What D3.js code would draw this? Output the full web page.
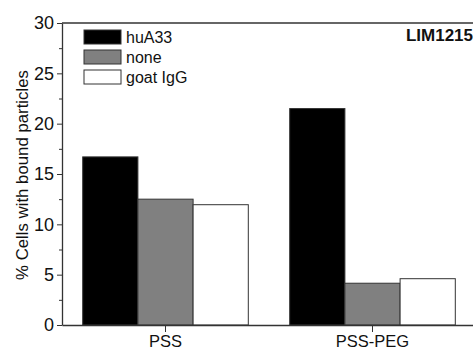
<!DOCTYPE html>
<html>
<head>
<meta charset="utf-8">
<script src="https://cdn.jsdelivr.net/npm/d3@7"></script>
<style>
  body { margin: 0; background: #fff; }
  text { font-family: "Liberation Sans", Arial, sans-serif; }
</style>
</head>
<body>
<script>
const categories = ["PSS", "PSS-PEG"];
const series = ["huA33", "none", "goat IgG"];
const huA33 = [16.7, 21.5];
const none = [12.5, 4.15];
const goatIgG = [11.95, 4.6];
const yTicks = [0, 5, 10, 15, 20, 25, 30];
const colors = ["#000000", "#808080", "#ffffff"];

const values = [huA33, none, goatIgG];

const margin = {top: 23, left: 62},
      width = 414, height = 302;

const svg = d3.select("body").append("svg")
    .attr("width", 473)
    .attr("height", 351);

const g = svg.append("g")
    .attr("transform", `translate(${margin.left},${margin.top})`);

const x0 = d3.scaleBand()
    .domain(categories)
    .range([0, width])
    .paddingInner(0.2)
    .paddingOuter(0.1);

const x1 = d3.scaleBand()
    .domain(series)
    .range([0, x0.bandwidth()]);

const y = d3.scaleLinear()
    .domain([0, 30])
    .range([height, 0]);

// bars
categories.forEach((c, ci) => {
  g.append("g")
      .attr("transform", `translate(${x0(c)},0)`)
    .selectAll("rect")
    .data(series)
    .enter().append("rect")
      .attr("x", s => x1(s))
      .attr("y", (s, si) => y(values[si][ci]))
      .attr("width", x1.bandwidth())
      .attr("height", (s, si) => height - y(values[si][ci]))
      .attr("fill", (s, si) => colors[si])
      .attr("stroke", "#333")
      .attr("stroke-width", 1);
});

// y axis with minor ticks
const yMinor = d3.range(0, 30.01, 2.5).filter(v => v % 5 !== 0);
g.append("g")
    .call(d3.axisLeft(y).tickValues(yMinor).tickSize(3).tickFormat(""))
    .call(a => a.select(".domain").remove())
    .selectAll("line").attr("stroke", "#333");

g.append("g")
    .call(d3.axisLeft(y).tickValues(yTicks).tickSize(5).tickSizeOuter(0).tickPadding(3))
    .call(a => a.select(".domain").attr("stroke", "#333").attr("stroke-width", 1.3))
    .call(a => a.selectAll("line").attr("stroke", "#333"))
    .call(a => a.selectAll("text").attr("font-size", 18).attr("fill", "#111")
      .attr("font-family", "'Liberation Sans', Arial, sans-serif"));

// x axis
g.append("g")
    .attr("transform", `translate(0,${height})`)
    .call(d3.axisBottom(x0).tickSize(7).tickSizeOuter(0).tickPadding(3))
    .call(a => a.select(".domain").attr("stroke", "#333").attr("stroke-width", 1.3))
    .call(a => a.selectAll("line").attr("stroke", "#333"))
    .call(a => a.selectAll("text").attr("font-size", 16.5).attr("fill", "#111")
      .attr("font-family", "'Liberation Sans', Arial, sans-serif"));

// top frame
g.append("line")
    .attr("x1", 0).attr("x2", width)
    .attr("y1", 0).attr("y2", 0)
    .attr("stroke", "#333").attr("stroke-width", 1.3);

// y label
svg.append("text")
    .attr("transform", "translate(28,175) rotate(-90)")
    .attr("text-anchor", "middle")
    .attr("font-size", 16.8)
    .attr("fill", "#111")
    .text("% Cells with bound particles");

// legend
const legend = svg.append("g")
    .attr("transform", "translate(84,30)");

const item = legend.selectAll("g")
    .data(series)
    .enter().append("g")
      .attr("transform", (d, i) => `translate(0,${i * 20})`);

item.append("rect")
    .attr("width", 37).attr("height", 14)
    .attr("fill", (d, i) => colors[i])
    .attr("stroke", "#333");

item.append("text")
    .attr("x", 42).attr("y", 13)
    .attr("font-size", 16)
    .attr("fill", "#111")
    .text(d => d);

// cell line label
svg.append("text")
    .attr("x", 473).attr("y", 41)
    .attr("text-anchor", "end")
    .attr("font-size", 17)
    .attr("font-weight", "bold")
    .attr("fill", "#111")
    .text("LIM1215");
</script>
</body>
</html>
